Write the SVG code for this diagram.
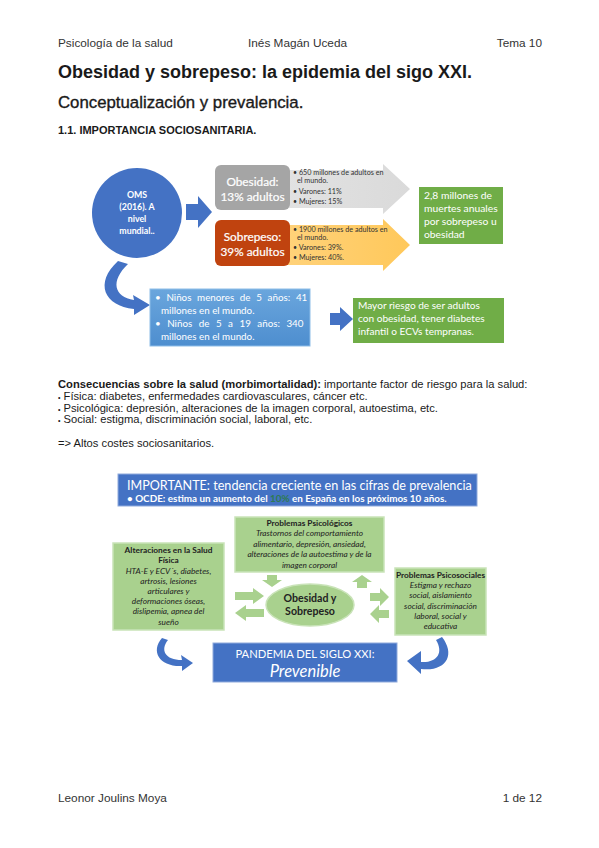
<svg xmlns="http://www.w3.org/2000/svg" width="599" height="848" viewBox="0 0 599 848">
<style>
.doc{font-family:"Liberation Sans",Arial,sans-serif;fill:#1a1a1a}
.hdr{font-size:11.8px;fill:#333}
.dg{font-family:Lato,"Open Sans",sans-serif}
.w{fill:#fff}
.k{fill:#222}
.b{font-weight:bold}
.i{font-style:italic}
.sm{font-size:7.2px;fill:#333}
.bt{font-size:8.3px}
.lg{fill:#A9D18E;stroke:#C9E3B8;stroke-width:1.5}
.la{fill:#A9D18E}
.bl{fill:#4472C4}
.bu{font-size:7px}
</style>
<defs>
<linearGradient id="gBlue" x1="0" y1="0" x2="0" y2="1"><stop offset="0" stop-color="#6AA6DD"/><stop offset="1" stop-color="#4E8ECF"/></linearGradient>
<linearGradient id="gGray" x1="0" y1="0" x2="1" y2="0"><stop offset="0" stop-color="#E2E2E2"/><stop offset="1" stop-color="#DADADA"/></linearGradient>
<linearGradient id="gOr" x1="0" y1="0" x2="1" y2="0"><stop offset="0" stop-color="#FFD27A"/><stop offset="1" stop-color="#FFC85A"/></linearGradient>
</defs>

<g id="header" class="doc">
<text class="hdr" x="58" y="47">Psicología de la salud</text>
<text class="hdr" x="248" y="47">Inés Magán Uceda</text>
<text class="hdr" x="542" y="47" text-anchor="end">Tema 10</text>
<text x="58" y="78" font-size="18" font-weight="bold">Obesidad y sobrepeso: la epidemia del sigo XXI.</text>
<text x="58" y="108" font-size="16.8" stroke="#1a1a1a" stroke-width="0.35">Conceptualización y prevalencia.</text>
<text x="58" y="134" font-size="11" font-weight="bold">1.1. IMPORTANCIA SOCIOSANITARIA.</text>
</g>

<g id="connectors">
<polygon id="arrow-gray" points="285,170 383,170 383,164 410,189 383,214 383,208 285,208" fill="url(#gGray)"/>
<polygon id="arrow-orange" points="285,225 383,225 383,219 410,245 383,271 383,265 285,265" fill="url(#gOr)"/>
<polygon id="arrow-oms" class="bl" points="186,204 198,204 198,196 212,212 198,228 198,220 186,220"/>
<path id="arrow-curve-top" class="bl" d="M118 261 L128 264 C110 281 114 297 134 300 L133 295 L150 305 L134 315 L134 309 C104 306 94 283 118 261 Z"/>
<polygon id="arrow-kids" class="bl" points="330,313 340,313 340,307 353,319 340,331 340,325 330,325"/>
<polygon id="a-psy-down" class="la" points="267,575 277,575 277,580 282,580 272,587 262,580 267,580"/>
<polygon id="a-psy-up" class="la" points="357,588 367,588 367,582 372,582 362,575 352,582 357,582"/>
<polygon id="a-left-r" class="la" points="235,592 253,592 253,588 264,596 253,604 253,600 235,600"/>
<polygon id="a-left-l" class="la" points="264,609 246,609 246,605 235,613 246,621 246,617 264,617"/>
<polygon id="a-right-r" class="la" points="370,593 380,593 380,588 389,597 380,606 380,601 370,601"/>
<polygon id="a-right-l" class="la" points="389,610 379,610 379,605 370,614 379,623 379,618 389,618"/>
<path id="arrow-curve-left" class="bl" d="M162 638 L168 640 C160 650 165 660 182 660 L181 655 L193 663 L182 671 L182 666 C160 667 150 652 162 638 Z"/>
<path id="arrow-curve-right" class="bl" d="M436 640 L442 637 C456 655 446 672 421 669 L421 674 L407 661 L421 651 L421 662 C437 663 444 653 436 640 Z"/>
</g>

<g id="n-oms" class="dg">
<circle cx="137" cy="213" r="45" fill="#4472C4"/>
<text class="w b" font-size="8.8" text-anchor="middle"><tspan x="137" y="198">OMS</tspan><tspan x="137" y="210">(2016). A</tspan><tspan x="137" y="222">nivel</tspan><tspan x="137" y="234">mundial..</tspan></text>
</g>

<g id="n-obesidad" class="dg">
<rect x="215" y="165" width="75" height="45" rx="6" fill="#A5A5A5"/>
<text class="w" font-size="11.8" text-anchor="middle" stroke="#fff" stroke-width="0.2"><tspan x="252.5" y="186">Obesidad:</tspan><tspan x="252.5" y="201">13% adultos</tspan></text>
</g>
<g id="n-obesidad-data" class="dg sm">
<text x="293" y="175"><tspan class="bu">•</tspan> 650 millones de adultos en</text>
<text x="297" y="183">el mundo.</text>
<text x="293" y="194"><tspan class="bu">•</tspan> Varones: 11%</text>
<text x="293" y="204"><tspan class="bu">•</tspan> Mujeres: 15%</text>
</g>

<g id="n-sobrepeso" class="dg">
<rect x="215" y="220" width="75" height="46" rx="6" fill="#C0430F"/>
<text class="w" font-size="11.8" text-anchor="middle" stroke="#fff" stroke-width="0.2"><tspan x="252.5" y="241">Sobrepeso:</tspan><tspan x="252.5" y="256">39% adultos</tspan></text>
</g>
<g id="n-sobrepeso-data" class="dg sm">
<text x="293" y="232"><tspan class="bu">•</tspan> 1900 millones de adultos en</text>
<text x="297" y="240">el mundo.</text>
<text x="293" y="250"><tspan class="bu">•</tspan> Varones: 39%.</text>
<text x="293" y="260"><tspan class="bu">•</tspan> Mujeres: 40%.</text>
</g>

<g id="n-muertes" class="dg">
<rect x="419" y="187" width="84" height="57" fill="#70AD47"/>
<text class="w" font-size="10.3"><tspan x="424" y="199">2,8 millones de</tspan><tspan x="424" y="212">muertes anuales</tspan><tspan x="424" y="225">por sobrepeso u</tspan><tspan x="424" y="238">obesidad</tspan></text>
</g>

<g id="n-ninos" class="dg">
<rect x="150" y="289" width="160" height="57" fill="url(#gBlue)" stroke="#8DBDE8" stroke-width="1"/>
<text class="w" font-size="9.8"><tspan x="155" y="301" word-spacing="3.2">• Niños menores de 5 años: 41</tspan><tspan x="161" y="314">millones en el mundo.</tspan><tspan x="155" y="327" word-spacing="4">• Niños de 5 a 19 años: 340</tspan><tspan x="161" y="340">millones en el mundo.</tspan></text>
</g>

<g id="n-riesgo" class="dg">
<rect x="353" y="298" width="151" height="45" fill="#70AD47"/>
<text class="w" font-size="10.1"><tspan x="358" y="309">Mayor riesgo de ser adultos</tspan><tspan x="358" y="322">con obesidad, tener diabetes</tspan><tspan x="358" y="335">infantil o ECVs tempranas.</tspan></text>
</g>

<g id="consecuencias" class="doc" font-size="11.2">
<text x="58" y="388"><tspan font-weight="bold">Consecuencias sobre la salud (morbimortalidad):</tspan> importante factor de riesgo para la salud:</text>
<text x="58" y="400"><tspan font-size="7">•</tspan> Física: diabetes, enfermedades cardiovasculares, cáncer etc.</text>
<text x="58" y="411.5"><tspan font-size="7">•</tspan> Psicológica: depresión, alteraciones de la imagen corporal, autoestima, etc.</text>
<text x="58" y="423"><tspan font-size="7">•</tspan> Social: estigma, discriminación social, laboral, etc.</text>
<text x="58" y="447">=&gt; Altos costes sociosanitarios.</text>
</g>

<g id="n-importante" class="dg">
<rect x="118" y="474" width="359" height="32" fill="#4472C4" stroke="#8FAADC" stroke-width="1"/>
<text class="w" x="127" y="490" font-size="12.6">IMPORTANTE: tendencia creciente en las cifras de prevalencia</text>
<text class="w b" x="127" y="502" font-size="9.9">• OCDE: estima un aumento del <tspan fill="#2E7A52">10%</tspan> en España en los próximos 10 años.</text>
</g>

<g id="n-psicologicos" class="dg">
<rect class="lg" x="235" y="517" width="149" height="55"/>
<text class="k bt" text-anchor="middle"><tspan class="b" x="309.5" y="526">Problemas Psicológicos</tspan><tspan class="i" x="309.5" y="536">Trastornos del comportamiento</tspan><tspan class="i" x="309.5" y="546.5">alimentario, depresión, ansiedad,</tspan><tspan class="i" x="309.5" y="557">alteraciones de la autoestima y de la</tspan><tspan class="i" x="309.5" y="567.5">imagen corporal</tspan></text>
</g>

<g id="n-obesidad-sobrepeso" class="dg">
<ellipse cx="310" cy="605" rx="44" ry="21" fill="#A9D18E" stroke="#C9E3B8" stroke-width="1.5"/>
<text class="k b" font-size="10.6" text-anchor="middle"><tspan x="310" y="602">Obesidad y</tspan><tspan x="310" y="615">Sobrepeso</tspan></text>
</g>

<g id="n-fisica" class="dg">
<rect class="lg" x="113" y="543" width="111" height="87"/>
<text class="k bt" text-anchor="middle"><tspan class="b" x="168.5" y="553">Alteraciones en la Salud</tspan><tspan class="b" x="168.5" y="563">Física</tspan><tspan class="i" x="168.5" y="574">HTA-E y ECV´s, diabetes,</tspan><tspan class="i" x="168.5" y="584">artrosis, lesiones</tspan><tspan class="i" x="168.5" y="594">articulares y</tspan><tspan class="i" x="168.5" y="604">deformaciones óseas,</tspan><tspan class="i" x="168.5" y="614">dislipemia, apnea del</tspan><tspan class="i" x="168.5" y="625">sueño</tspan></text>
</g>

<g id="n-psicosociales" class="dg">
<rect class="lg" x="395" y="568" width="91" height="67"/>
<text class="k bt" text-anchor="middle"><tspan class="b" x="440.5" y="578">Problemas Psicosociales</tspan><tspan class="i" x="440.5" y="588">Estigma y rechazo</tspan><tspan class="i" x="440.5" y="598">social, aislamiento</tspan><tspan class="i" x="440.5" y="609">social, discriminación</tspan><tspan class="i" x="440.5" y="619">laboral, social y</tspan><tspan class="i" x="440.5" y="629">educativa</tspan></text>
</g>

<g id="n-pandemia" class="dg">
<rect x="213" y="643" width="184" height="39" fill="#4472C4" stroke="#8FAADC" stroke-width="1"/>
<text class="w" font-size="11.2" text-anchor="middle" x="305" y="658">PANDEMIA DEL SIGLO XXI:</text>
<text class="w i" font-size="16.5" text-anchor="middle" x="305" y="677">Prevenible</text>
</g>

<g id="footer" class="doc">
<text class="hdr" x="58" y="802">Leonor Joulins Moya</text>
<text class="hdr" x="542" y="802" text-anchor="end">1 de 12</text>
</g>
</svg>
